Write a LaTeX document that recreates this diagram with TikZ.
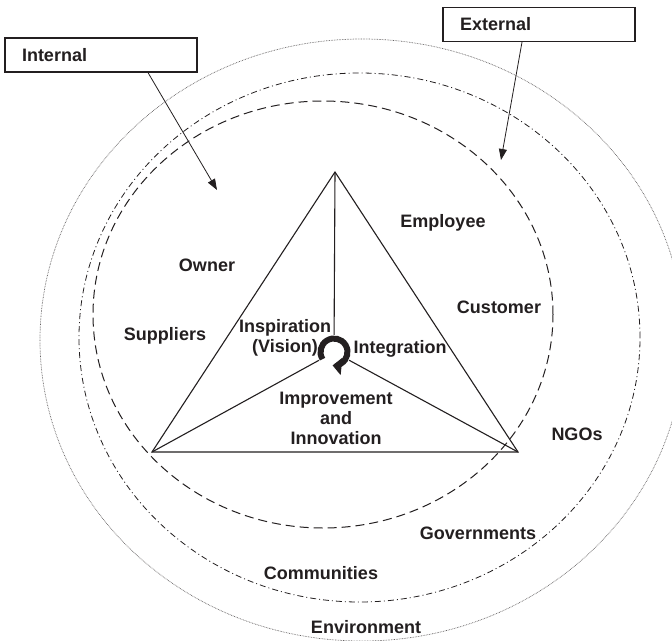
\documentclass[tikz,border=0pt]{standalone}
\usepackage{fontspec}
\setmainfont{Liberation Sans}
\usepackage{xcolor}
\usetikzlibrary{arrows.meta}

\definecolor{ink}{HTML}{231F20}

\tikzset{
    lbl/.style={font=\fontsize{18}{20}\selectfont\bfseries, text=ink, inner sep=0pt},
    tagbox/.style={draw=ink, line width=1.2pt, minimum width=192pt, minimum height=34pt,
        text width=158pt, align=left, inner xsep=17pt, font=\fontsize{18}{20}\selectfont\bfseries, text=ink},
    ptr/.style={draw=ink, line width=0.8pt, -{Triangle[length=11pt, width=8pt]}},
    edge/.style={draw=ink, line width=1.1pt},
    ringin/.style={draw=ink, line width=1pt, dash pattern=on 9pt off 5pt},
    ringmid/.style={draw=ink, line width=0.8pt, dash pattern=on 6pt off 3pt on 1pt off 3pt},
    ringout/.style={draw=ink!70, line width=0.7pt, dash pattern=on 0.7pt off 0.9pt}
}

\begin{document}
\begin{tikzpicture}[x=1pt, y=-1pt]
        \clip (0, 0) rectangle (672, 640);
        \fill[white] (0, 0) rectangle (672, 640);

        % the three rings
        \draw[ringout] (362, 340) ellipse [x radius=322pt, y radius=301pt];
        \draw[ringmid] (359.5, 337.5) ellipse [x radius=280.5pt, y radius=264.5pt];
        \draw[ringin] (323, 314.5) ellipse [x radius=230pt, y radius=213.5pt];

        % triangle
        \coordinate (apex) at (335, 172);
        \coordinate (left) at (152, 452);
        \coordinate (right) at (518, 452);
        \node[circle, minimum size=34pt, inner sep=0pt] (hub) at (334, 352) {};
        \draw[edge] (apex) -- (left) -- (right) -- cycle;
        \draw[edge] (apex) -- (hub);
        \draw[edge] (left) -- (hub);
        \draw[edge] (right) -- (hub);

        \draw[draw=ink, line width=6pt, -{Triangle[length=9pt, width=17pt]}]
            (hub.center) ++(-212:13.5) arc[start angle=-212, end angle=96, radius=13.5];

        % labels
        \node[lbl] (employee) at (443, 223) {Employee};
        \node[lbl] (owner) at (207, 265) {Owner};
        \node[lbl] (customer) at (499, 307) {Customer};
        \node[lbl] (suppliers) at (165, 336) {Suppliers};
        \node[lbl, align=center] (vision) at (285, 338) {Inspiration\\(Vision)};
        \node[lbl] (integration) at (400, 349) {Integration};
        \node[lbl, align=center] (improve) at (336, 418) {Improvement\\and\\Innovation};
        \node[lbl] (ngos) at (577, 434) {NGOs};
        \node[lbl] (govts) at (478, 533) {Governments};
        \node[lbl] (communities) at (321, 573) {Communities};
        \node[lbl] (environment) at (366, 627) {Environment};

        % boxes and pointers
        \node[tagbox] (internal) at (101, 55) {Internal};
        \node[tagbox] (external) at (539, 24.5) {External};
        \coordinate (intip) at (217, 190);
        \coordinate (extip) at (501, 160);
        \draw[ptr] ([xshift=47pt]internal.south) -- (intip);
        \draw[ptr] ([xshift=-17pt]external.south) -- (extip);
    \end{tikzpicture}
\end{document}
